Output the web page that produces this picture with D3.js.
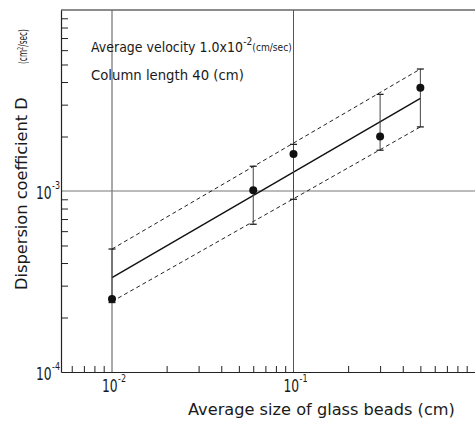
<!DOCTYPE html>
<html>
<head>
<meta charset="utf-8">
<script src="https://cdn.jsdelivr.net/npm/d3@7/dist/d3.min.js"></script>
<style>
  html, body { margin: 0; padding: 0; background: #fff; }
  svg { display: block; }
  text { font-family: "DejaVu Sans", "Noto Sans", sans-serif; fill: #1a1a1a; }
</style>
</head>
<body>
<svg id="chart" width="475" height="421"></svg>
<script>
// Measured bead sizes (cm) and dispersion coefficients (cm^2/sec)
const beadSize = [0.01, 0.06, 0.1, 0.3, 0.5];
const dispersion = [2.53e-4, 1.01e-3, 1.60e-3, 2.0e-3, 3.72e-3];
const errHigh = [4.78e-4, 1.37e-3, 1.81e-3, 3.42e-3, 4.72e-3];
const errLow = [2.42e-4, 6.55e-4, 9.0e-4, 1.68e-3, 2.26e-3];

// Fitted line and its band, given at both ends
const fitSize = [0.01, 0.5];
const fitMid = [3.32e-4, 3.25e-3];
const fitUpper = [4.78e-4, 4.72e-3];
const fitLower = [2.45e-4, 2.26e-3];

// Axis ticks
const xMajor = [1e-2, 1e-1];
const xMinor = [6e-3, 7e-3, 8e-3, 9e-3,
  2e-2, 3e-2, 4e-2, 5e-2, 6e-2, 7e-2, 8e-2, 9e-2,
  2e-1, 3e-1, 4e-1, 5e-1, 6e-1, 7e-1, 8e-1, 9e-1];
const yMajor = [1e-4, 1e-3];
const yMinor = [2e-4, 3e-4, 4e-4, 5e-4, 6e-4, 7e-4, 8e-4, 9e-4,
  2e-3, 3e-3, 4e-3, 5e-3, 6e-3, 7e-3, 8e-3, 9e-3];

const svg = d3.select("#chart");
const plotLeft = 61, plotRight = 475, plotTop = 10, plotBottom = 372;

const x = d3.scaleLog().domain([0.01, 1]).range([112, 475]);
const xAxisScale = x.copy().domain([x.invert(plotLeft), 1]).range([plotLeft, plotRight]);
const y = d3.scaleLog().domain([1e-4, 1e-2]).range([plotBottom, plotTop]);

// Squeeze a text horizontally so that it spans the given width (lettering is narrow)
function placeText(sel, px, py, width, angle = 0) {
  const w = sel.node().getBBox().width;
  const s = width / w;
  sel.attr("transform", `translate(${px},${py}) rotate(${angle}) scale(${s},1)`);
  return sel;
}

// Grid lines at the decades
svg.append("g").selectAll("line").data(xMajor).join("line")
  .attr("x1", d => x(d)).attr("x2", d => x(d))
  .attr("y1", plotTop).attr("y2", plotBottom)
  .attr("stroke", "#555").attr("stroke-width", 1);
svg.append("g").selectAll("line").data(yMajor.filter(v => y(v) < plotBottom - 1)).join("line")
  .attr("x1", plotLeft).attr("x2", plotRight)
  .attr("y1", d => y(d)).attr("y2", d => y(d))
  .attr("stroke", "#777").attr("stroke-width", 1);

// Top frame
svg.append("line")
  .attr("x1", plotLeft).attr("x2", plotRight).attr("y1", plotTop).attr("y2", plotTop)
  .attr("stroke", "#666").attr("stroke-width", 1.3);

// Axes with inward minor ticks
const yAxis = svg.append("g").attr("transform", `translate(${plotLeft},0)`)
  .call(d3.axisLeft(y).tickValues(yMinor).tickSize(-7).tickSizeOuter(0).tickFormat(""));
const xAxis = svg.append("g").attr("transform", `translate(0,${plotBottom})`)
  .call(d3.axisBottom(xAxisScale).tickValues(xMinor).tickSize(-6).tickSizeOuter(0).tickFormat(""));
[yAxis, xAxis].forEach(g => {
  g.selectAll("path").attr("stroke", "#222").attr("stroke-width", 1.2);
  g.selectAll("line").attr("stroke", "#222").attr("stroke-width", 1);
});

// Decade labels: "10" with a superscript exponent
const expOf = v => String(Math.round(Math.log10(v)));
function decadeLabel(px, py, v) {
  const t = svg.append("text").attr("font-size", 17);
  t.append("tspan").text("10");
  t.append("tspan").attr("font-size", 11).attr("dx", 0.5).attr("dy", -10).text(expOf(v));
  return placeText(t, px, py, 24);
}
yMajor.forEach(v => decadeLabel(36, y(v) + 7.5, v));
xMajor.forEach(v => decadeLabel(x(v) - 10, 392, v));

// Fitted line and dashed band
const line = d3.line().x(d => x(d[0])).y(d => y(d[1]));
svg.append("path").datum(d3.zip(fitSize, fitMid)).attr("d", line)
  .attr("fill", "none").attr("stroke", "#111").attr("stroke-width", 1.4);
[fitUpper, fitLower].forEach(arr => {
  svg.append("path").datum(d3.zip(fitSize, arr)).attr("d", line)
    .attr("fill", "none").attr("stroke", "#222").attr("stroke-width", 1)
    .attr("stroke-dasharray", "4,3");
});

// Error bars
const bars = svg.append("g").selectAll("g").data(beadSize.map((s, i) => ({s, hi: errHigh[i], lo: errLow[i]})))
  .join("g");
bars.append("line")
  .attr("x1", d => x(d.s)).attr("x2", d => x(d.s))
  .attr("y1", d => y(d.hi)).attr("y2", d => y(d.lo))
  .attr("stroke", "#444").attr("stroke-width", 1);
["hi", "lo"].forEach(k => {
  bars.append("line")
    .attr("x1", d => x(d.s) - 3.5).attr("x2", d => x(d.s) + 3.5)
    .attr("y1", d => y(d[k])).attr("y2", d => y(d[k]))
    .attr("stroke", "#222").attr("stroke-width", 1.3);
});

// Data points
svg.append("g").selectAll("circle").data(d3.zip(beadSize, dispersion)).join("circle")
  .attr("cx", d => x(d[0])).attr("cy", d => y(d[1])).attr("r", 4)
  .attr("fill", "#111");

// Conditions
const cond1 = svg.append("text").attr("font-size", 14.5);
cond1.append("tspan").text("Average velocity 1.0x10");
cond1.append("tspan").attr("font-size", 10.5).attr("dx", 0.5).attr("dy", -7).text("-2");
cond1.append("tspan").attr("font-size", 10.5).attr("dy", 6.5).text("(cm/sec)");
placeText(cond1, 91, 51.5, 201);

const cond2 = svg.append("text").attr("font-size", 14.5).text("Column length 40 (cm)");
placeText(cond2, 91, 80, 153);

// Axis titles
const xTitle = svg.append("text").attr("font-size", 15.5).text("Average size of glass beads (cm)");
placeText(xTitle, 188, 415, 267);

const yTitle = svg.append("text").attr("font-size", 15.5).text("Dispersion coefficient D");
placeText(yTitle, 27, 290, 193, -90);
const yUnit = svg.append("text").attr("font-size", 11.5);
yUnit.append("tspan").text("(cm");
yUnit.append("tspan").attr("font-size", 8).attr("dy", -4).text("2");
yUnit.append("tspan").attr("dy", 4).text("/sec)");
placeText(yUnit, 26.5, 64, 35, -90);
</script>
</body>
</html>
